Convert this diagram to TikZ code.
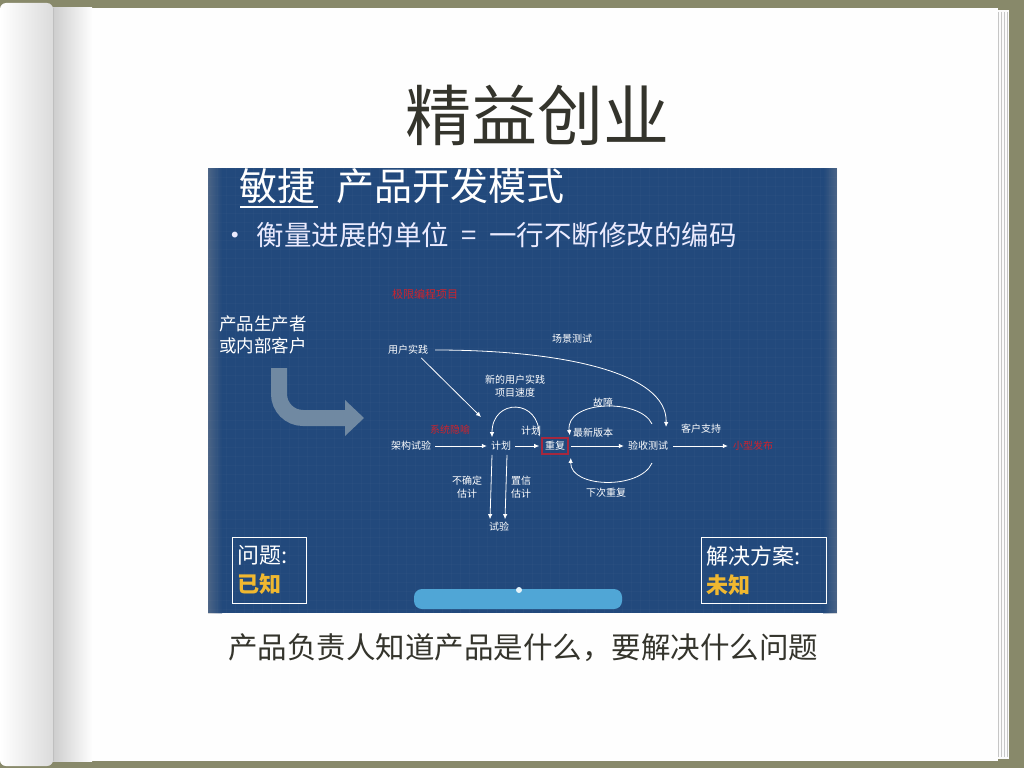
\documentclass[tikz,border=0pt]{standalone}
\usepackage{fontspec}
\setmainfont{Noto Sans CJK SC}
\usepackage{xcolor}
\usetikzlibrary{arrows.meta,positioning,calc}
\definecolor{oliva}{RGB}{136,137,106}
\definecolor{blu}{RGB}{34,73,124}
\definecolor{grigioblu}{RGB}{112,137,162}
\definecolor{rossobox}{RGB}{165,40,62}
\definecolor{rossotxt}{RGB}{205,35,45}
\definecolor{oro}{RGB}{240,184,48}
\definecolor{azzurro}{RGB}{80,166,214}
\definecolor{inchiostro}{RGB}{52,52,44}

\begin{document}
\begin{tikzpicture}[x=1pt,y=-1pt,>={Latex[length=5pt,width=4.5pt]},
  lbl/.style={text=white,font=\fontsize{10}{13}\selectfont,inner sep=1pt,align=center},
  redlbl/.style={lbl,text=rossotxt},
  flow/.style={->,white,line width=0.8pt},
  boxtxt/.style={text=white,font=\fontsize{22}{24}\selectfont,inner sep=0pt,anchor=west}]
  \useasboundingbox (0,0) rectangle (1024,768);
  % sfondo e pagina
  \fill[oliva] (0,0) rectangle (1024,768);
  \fill[white!97!gray] (996,10) rectangle (1009,759);
  \foreach \x in {998,1001,1004,1007} \draw[gray!45,line width=0.5pt] (\x,12)--(\x,757);
  \fill[white!99!gray] (50,8) rectangle (998,761);
  \shade[left color=black!20,right color=white!99!gray] (52,8) rectangle (92,761);
  \shade[left color=white,right color=black!14,rounded corners=6pt] (0,3) rectangle (53,766);
  \draw[black!25,line width=0.5pt] (53,8)--(53,761);
  % titolo
  \node[text=inchiostro,font=\fontsize{66}{70}\selectfont] (titolo) at (537,115) {精益创业};
  % diapositiva
  \fill[blu] (208,168) rectangle (837,613);
  \begin{scope}
    \clip (208,168) rectangle (837,613);
    \foreach \g in {0,...,70} \draw[white,opacity=0.018,line width=0.4pt] (208+9*\g,168)--(208+9*\g,613);
    \foreach \g in {0,...,50} \draw[white,opacity=0.018,line width=0.4pt] (208,168+9*\g)--(837,168+9*\g);
    \shade[left color=black!40,right color=blu,opacity=0.35] (208,168) rectangle (222,613);
    \shade[right color=black!40,left color=blu,opacity=0.35] (823,168) rectangle (837,613);
    \node[text=white,font=\fontsize{38}{40}\selectfont,anchor=west,inner sep=0pt] (intest) at (239,186) {敏捷\hspace{0.55em}产品开发模式};
    \draw[white,line width=1.5pt] (240,207)--(318,207);
  \end{scope}
  \node[text=white!92!blue,font=\fontsize{27.5}{30}\selectfont,anchor=west,inner sep=0pt] (misura) at (221,235) {•\hspace{0.3em}衡量进展的单位\hspace{0.45em}=\hspace{0.45em}一行不断修改的编码};
  \node[redlbl,font=\fontsize{11}{13}\selectfont] (xp) at (425,294) {极限编程项目};
  \node[text=white,font=\fontsize{17.5}{22}\selectfont,align=left,anchor=north west,inner sep=0pt] (produttore) at (219,316) {产品生产者\\或内部客户};
  % freccia grigia
  \draw[grigioblu,line width=16pt,rounded corners=24pt] (279,368)--(279,418)--(347,418);
  \fill[grigioblu] (345,400)--(364,418)--(345,436)--cycle;
  % nodi
  \node[lbl] (yhsj) at (408,350) {用户实践};
  \node[lbl] (cjcs) at (572,339) {场景测试};
  \node[lbl] (xdyh) at (515,386) {新的用户实践\\项目速度};
  \node[lbl] (gz) at (603,403) {故障};
  \node[lbl] (jhl) at (531,431) {计划};
  \node[lbl] (zxbb) at (593,433) {最新版本};
  \node[lbl] (khzc) at (701,429) {客户支持};
  \node[redlbl] (xtyy) at (450,430) {系统隐喻};
  \node[lbl] (jgsy) at (411,446) {架构试验};
  \node[lbl] (jh) at (501,446) {计划};
  \node[lbl,draw=rossobox,line width=1.6pt,inner xsep=3pt,inner ysep=3.5pt] (cf) at (555,446) {重复};
  \node[lbl] (yscs) at (648,446) {验收测试};
  \node[redlbl] (xxfb) at (753,446) {小型发布};
  \node[lbl] (bqd) at (467,487) {不确定\\估计};
  \node[lbl] (zx) at (521,487) {置信\\估计};
  \node[lbl] (xccf) at (606,493) {下次重复};
  \node[lbl] (sy) at (499,527) {试验};
  \coordinate (jhin) at (481,417);
  \coordinate (ysin) at (666,427);
  \coordinate (gzout) at (652,424);
  \coordinate (xcout) at (652,463);
  % frecce
  \draw[flow] (yhsj.south east)++(-8,2) -- (jhin);
  \draw[flow] (yhsj.east)++(6,0) .. controls (560,350) and (668,372) .. (ysin);
  \draw[flow] (jgsy.east)++(3,0) -- ($(jh.west)+(-3,0)$);
  \draw[flow] (jh.east)++(3,0) -- ($(cf.west)+(-2,0)$);
  \draw[flow] (cf.east)++(2,0) -- ($(yscs.west)+(-3,0)$);
  \draw[flow] (yscs.east)++(4,0) -- ($(xxfb.west)+(-4,0)$);
  \draw[flow] ($(cf.north west)+(-2,-1)$) .. controls (540,398) and (492,398) .. ($(jh.north)+(-9,-3)$);
  \draw[flow] (gzout) .. controls (640,398) and (565,400) .. ($(cf.north east)+(1,-2)$);
  \draw[flow] (xcout) .. controls (640,490) and (570,488) .. ($(cf.south east)+(2,3)$);
  \draw[flow] ($(jh.south)+(-9,3)$) -- ($(sy.north)+(-9,-2)$);
  \draw[flow] ($(jh.south)+(6,3)$) -- ($(sy.north)+(6,-2)$);
  % riquadri
  \draw[white,line width=1pt] (232,537) rectangle (306,603);
  \node[boxtxt] (problema) at (237,555) {问题:};
  \node[boxtxt,text=oro,font=\bfseries\fontsize{22}{24}\selectfont] (noto) at (237,584) {已知};
  \draw[white,line width=1pt] (701,537) rectangle (826,603);
  \node[boxtxt] (soluzione) at (706,556) {解决方案:};
  \node[boxtxt,text=oro,font=\bfseries\fontsize{22}{24}\selectfont] (ignoto) at (706,585) {未知};
  \fill[azzurro,rounded corners=8pt] (414,589) rectangle (622,609);
  \fill[white!85!azzurro] (519,590) circle (3);
  % didascalia
  \node[text=inchiostro,font=\fontsize{29.5}{32}\selectfont] (didascalia) at (523,648) {产品负责人知道产品是什么，要解决什么问题};
\end{tikzpicture}
\end{document}
